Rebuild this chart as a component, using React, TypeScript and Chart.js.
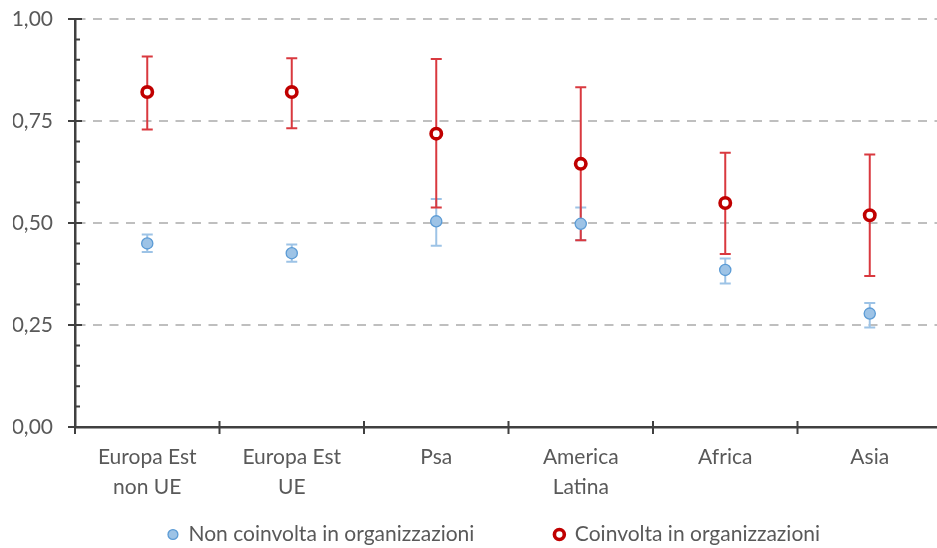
import React, { useEffect, useRef } from "react";
import { Chart, registerables } from "chart.js";

Chart.register(...registerables);

// ---- Data ----
const categories: (string | string[])[] = [
  ["Europa Est", "non UE"],
  ["Europa Est", "UE"],
  "Psa",
  ["America", "Latina"],
  "Africa",
  "Asia",
];

const seriesNames = ["Non coinvolta in organizzazioni", "Coinvolta in organizzazioni"];

const nonValues = [0.45, 0.426, 0.504, 0.498, 0.385, 0.278];
const nonLow = [0.429, 0.405, 0.444, 0.458, 0.352, 0.244];
const nonHigh = [0.472, 0.447, 0.559, 0.538, 0.413, 0.304];

const coinValues = [0.821, 0.821, 0.719, 0.645, 0.549, 0.519];
const coinLow = [0.729, 0.732, 0.538, 0.458, 0.424, 0.37];
const coinHigh = [0.908, 0.904, 0.902, 0.833, 0.672, 0.668];

const yTickLabels = ["0,00", "0,25", "0,50", "0,75", "1,00"];

// ---- Styles ----
const FONT = "Lato";
const FONT_SIZE = 21;
const TEXT = "#595959";
const AXIS = "#404040";
const BLUE_FILL = "#9DC3E6";
const BLUE_BORDER = "#5B9BD5";
const BLUE_ERR = "#9DC3E6";
const RED = "#C00000";
const RED_ERR = "#D9393F";

const errorBarPlugin = {
  id: "errorBars",
  beforeDatasetsDraw(chart: any) {
    const ctx = chart.ctx;
    const y = chart.scales.y;
    const sets = [
      { low: nonLow, high: nonHigh, color: BLUE_ERR, idx: 0 },
      { low: coinLow, high: coinHigh, color: RED_ERR, idx: 1 },
    ];
    ctx.save();
    for (const s of sets) {
      const meta = chart.getDatasetMeta(s.idx);
      ctx.strokeStyle = s.color;
      ctx.lineWidth = 2;
      meta.data.forEach((pt: any, i: number) => {
        const x = pt.x;
        const yl = y.getPixelForValue(s.low[i]);
        const yh = y.getPixelForValue(s.high[i]);
        const cap = 5.5;
        ctx.beginPath();
        ctx.moveTo(x, yl);
        ctx.lineTo(x, yh);
        ctx.moveTo(x - cap, yl);
        ctx.lineTo(x + cap, yl);
        ctx.moveTo(x - cap, yh);
        ctx.lineTo(x + cap, yh);
        ctx.stroke();
      });
    }
    ctx.restore();
  },
};

const axisTicksPlugin = {
  id: "axisTicks",
  afterDraw(chart: any) {
    const ctx = chart.ctx;
    const y = chart.scales.y;
    const x = chart.scales.x;
    const area = chart.chartArea;
    ctx.save();
    ctx.strokeStyle = AXIS;
    ctx.lineWidth = 2;
    ctx.beginPath();
    for (let k = 0; k <= 20; k++) {
      const py = y.getPixelForValue(k * 0.05);
      if (k % 5 === 0) {
        ctx.moveTo(area.left - 7, py);
        ctx.lineTo(area.left + 7, py);
      } else {
        ctx.moveTo(area.left, py);
        ctx.lineTo(area.left + 5, py);
      }
    }
    const n = categories.length;
    for (let i = 0; i <= n; i++) {
      const px = x.left + (i * (x.right - x.left)) / n;
      ctx.moveTo(px, area.bottom - 6);
      ctx.lineTo(px, area.bottom + 7);
    }
    ctx.stroke();
    ctx.restore();
  },
};

export default function App() {
  const ref = useRef<HTMLCanvasElement>(null);

  useEffect(() => {
    const chart = new Chart(ref.current as HTMLCanvasElement, {
      type: "line",
      data: {
        labels: categories as any,
        datasets: [
          {
            label: seriesNames[0],
            data: nonValues,
            showLine: false,
            backgroundColor: BLUE_FILL,
            borderColor: BLUE_BORDER,
            pointRadius: 5.6,
            pointHoverRadius: 5.6,
            pointBackgroundColor: BLUE_FILL,
            pointBorderColor: BLUE_BORDER,
            pointBorderWidth: 1.3,
            pointStyle: "circle",
          },
          {
            label: seriesNames[1],
            data: coinValues,
            showLine: false,
            backgroundColor: "#FFFFFF",
            borderColor: RED,
            pointRadius: 5.2,
            pointHoverRadius: 5.2,
            pointBackgroundColor: "#FFFFFF",
            pointBorderColor: RED,
            pointBorderWidth: 3.6,
            pointStyle: "circle",
          },
        ],
      },
      options: {
        responsive: false,
        animation: false,
        devicePixelRatio: 1,
        layout: { padding: { left: 13, right: 0, top: 19, bottom: 5 } },
        plugins: {
          tooltip: { enabled: false },
          legend: {
            position: "bottom",
            labels: {
              usePointStyle: true,
              boxWidth: 10,
              boxHeight: 7,
              padding: 80,
              color: TEXT,
              font: { family: FONT, size: FONT_SIZE },
            },
          },
        },
        scales: {
          x: {
            type: "category",
            offset: true,
            grid: { display: false, drawTicks: false },
            border: { display: true, color: AXIS, width: 2.5 },
            ticks: {
              color: TEXT,
              font: { family: FONT, size: FONT_SIZE, lineHeight: 30 / FONT_SIZE },
              mirror: true,
              padding: -45,
              maxRotation: 0,
              autoSkip: false,
            },
            afterFit: (s: any) => {
              s.height = 17;
            },
          },
          y: {
            position: "left",
            min: 0,
            max: 1,
            grid: {
              drawTicks: true,
              tickLength: 22,
              tickColor: "rgba(0,0,0,0)",
              lineWidth: 2,
              color: (c: any) => (c.tick && c.tick.value === 0 ? "rgba(0,0,0,0)" : "#BFBFBF"),
            },
            border: { display: true, color: AXIS, width: 2.5, dash: [9, 7.5], dashOffset: 0 },
            ticks: {
              stepSize: 0.25,
              color: TEXT,
              font: { family: FONT, size: FONT_SIZE },
              padding: 0,
              callback: (_v: any, i: number) => yTickLabels[i],
            },
            afterFit: (s: any) => {
              s.width = 62;
            },
          },
          yRight: {
            type: "linear",
            position: "right",
            min: 0,
            max: 1,
            grid: { display: false, drawTicks: false },
            border: { display: false },
            ticks: { display: false, padding: 0 },
            afterFit: (s: any) => {
              s.width = 33;
            },
          },
        },
      },
      plugins: [errorBarPlugin, axisTicksPlugin],
    });
    return () => chart.destroy();
  }, []);

  return (
    <div
      style={{
        position: "fixed",
        left: 0,
        top: 0,
        width: 937,
        height: 548,
        overflow: "hidden",
        background: "#ffffff",
      }}
    >
      <canvas ref={ref} width={975} height={560} style={{ display: "block", width: 975, height: 560 }} />
    </div>
  );
}
